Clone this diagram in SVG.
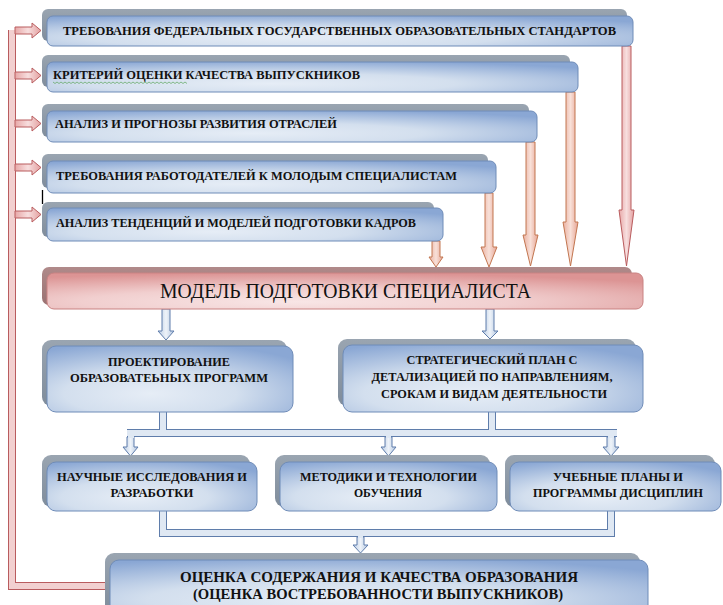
<svg xmlns="http://www.w3.org/2000/svg" width="723" height="605" viewBox="0 0 723 605">
<defs>
<radialGradient id="gBlue" cx="0.42" cy="0.72" r="0.78">
<stop offset="0" stop-color="#e6edf6"/>
<stop offset="0.45" stop-color="#d3dfee"/>
<stop offset="1" stop-color="#8aa7d4"/>
</radialGradient>
<radialGradient id="gPink" cx="0.42" cy="0.8" r="0.8">
<stop offset="0" stop-color="#f8e6e6"/>
<stop offset="0.45" stop-color="#f1cfcf"/>
<stop offset="1" stop-color="#dc9494"/>
</radialGradient>
<linearGradient id="gShadow" x1="0" y1="0" x2="0" y2="1">
<stop offset="0" stop-color="#9aa5b1"/>
<stop offset="1" stop-color="#7f8c9b"/>
</linearGradient>
<linearGradient id="gShadowPink" x1="0" y1="0" x2="0" y2="1">
<stop offset="0" stop-color="#b08a8a"/>
<stop offset="1" stop-color="#9a7272"/>
</linearGradient>
<linearGradient id="gArrPink" x1="0" y1="0" x2="1" y2="0">
<stop offset="0" stop-color="#e8a8a8"/>
<stop offset="0.5" stop-color="#f7dede"/>
<stop offset="1" stop-color="#e3a0a0"/>
</linearGradient>
<linearGradient id="gArrOr" x1="0" y1="0" x2="1" y2="0">
<stop offset="0" stop-color="#eab0a0"/>
<stop offset="0.5" stop-color="#f8e0d8"/>
<stop offset="1" stop-color="#e6a594"/>
</linearGradient>
<linearGradient id="gArrBlue" x1="0" y1="0" x2="1" y2="0">
<stop offset="0" stop-color="#b9cbe3"/>
<stop offset="0.5" stop-color="#eef3f9"/>
<stop offset="1" stop-color="#b3c6e0"/>
</linearGradient>
</defs>
<style>
.sh{fill:url(#gShadow);}
.shp{fill:url(#gShadowPink);}
.bx{fill:url(#gBlue);stroke:#6f8cb8;stroke-width:1;}
.pk{fill:url(#gPink);stroke:#c98282;stroke-width:1;}
text{font-family:"Liberation Serif","Times New Roman","DejaVu Serif",serif;fill:#111;}
.t{font-weight:bold;}
.t13{font-size:13px;}
.t12{font-size:12.5px;}
.t15{font-size:15.5px;}
.tm{font-size:21px;}
.c{text-anchor:middle;}
.apk{fill:url(#gArrPink);stroke:#b95c5e;stroke-width:1;stroke-linejoin:miter;}
.aor{fill:url(#gArrOr);stroke:#c27650;stroke-width:1;stroke-linejoin:miter;}
.abl{fill:url(#gArrBlue);stroke:#5f7dab;stroke-width:1;stroke-linejoin:miter;}
.po{fill:none;stroke:#5f7dab;stroke-width:8;stroke-linejoin:miter;}
.pi{fill:none;stroke:#dfe8f3;stroke-width:6;stroke-linejoin:miter;}
.lo{fill:none;stroke:#b95c5e;stroke-width:8;stroke-linejoin:miter;}
.li{fill:none;stroke:#f2d0d0;stroke-width:6;stroke-linejoin:miter;}
.cap{fill:none;stroke:#dfe8f3;stroke-width:2;}
</style>
<rect width="723" height="605" fill="#ffffff"/>

<g id="connectors">
<path class="lo" d="M12,30 V586 H106"/>
<path class="li" d="M12,30 V586 H106"/>
<polygon class="apk" points="15,27 32,27 32,23 41,30.5 32,38 32,34 15,34"/>
<polygon class="apk" points="15,72 32,72 32,68 41,75.5 32,83 32,79 15,79"/>
<polygon class="apk" points="15,120 32,120 32,116 41,123.5 32,131 32,127 15,127"/>
<polygon class="apk" points="15,164 32,164 32,160 41,167.5 32,175 32,171 15,171"/>
<polygon class="apk" points="15,211 32,211 32,207 41,214.5 32,222 32,218 15,218"/>
<polygon class="apk" points="622,46 631,46 631,210 634,210 626.5,266 619,210 622,210"/>
<polygon class="aor" points="566,92 575,92 575,222 578,222 570.5,266 563,222 566,222"/>
<polygon class="aor" points="526,142 535,142 535,235 538,235 530.5,266 523,235 526,235"/>
<polygon class="aor" points="485,193 493,193 493,247 497,247 489,267 481,247 485,247"/>
<polygon class="aor" points="432,241 440,241 440,257 443,257 436,267 429,257 432,257"/>
<polygon class="abl" points="162,309 170,309 170,331 174,331 166,340 158,331 162,331"/>
<polygon class="abl" points="486,309 494,309 494,331 498,331 490,339 482,331 486,331"/>
<path class="po" d="M163,412 V433 M492,412 V433 M127,433 H617"/>
<path class="pi" d="M163,412 V433 M492,412 V433 M127,433 H617"/>
<polygon class="abl" points="127,437 134,437 134,447 138,447 130.5,456 123,447 127,447"/>
<polygon class="abl" points="385,437 392,437 392,447 396,447 388.5,456 381,447 385,447"/>
<polygon class="abl" points="607,437 615,437 615,447 619,447 611,456 603,447 607,447"/>
<path class="cap" d="M128,437 H134 M386,437 H391 M608,437 H614"/>
<path class="po" d="M163,511 V533 H611 V511"/>
<path class="pi" d="M163,511 V533 H611 V511"/>
<polygon class="abl" points="357,537 364,537 364,545 368,545 360.5,553 353,545 357,545"/>
<path class="cap" d="M358,537 H363"/>
</g>

<g id="n1">
<rect class="sh" x="42" y="9" width="585" height="32" rx="6"/>
<rect class="bx" x="47" y="16" width="586" height="30" rx="6"/>
<text class="t t13" x="63" y="35" textLength="553" lengthAdjust="spacingAndGlyphs">ТРЕБОВАНИЯ ФЕДЕРАЛЬНЫХ ГОСУДАРСТВЕННЫХ ОБРАЗОВАТЕЛЬНЫХ СТАНДАРТОВ</text>
</g>
<g id="n2">
<rect class="sh" x="42" y="55" width="528" height="32" rx="6"/>
<rect class="bx" x="47" y="62" width="531" height="30" rx="6"/>
<text class="t t13" x="53" y="79" textLength="307" lengthAdjust="spacingAndGlyphs">КРИТЕРИЙ ОЦЕНКИ КАЧЕСТВА ВЫПУСКНИКОВ</text>
<path d="M53,82 l2,1.5 l2,-1.5 l2,1.5 l2,-1.5 l2,1.5 l2,-1.5 l2,1.5 l2,-1.5 l2,1.5 l2,-1.5 l2,1.5 l2,-1.5 l2,1.5 l2,-1.5 l2,1.5 l2,-1.5 l2,1.5 l2,-1.5 l2,1.5 l2,-1.5 l2,1.5 l2,-1.5 l2,1.5 l2,-1.5 l2,1.5 l2,-1.5 l2,1.5 l2,-1.5 l2,1.5 l2,-1.5 l2,1.5 l2,-1.5 l2,1.5 l2,-1.5 l2,1.5 l2,-1.5 l2,1.5 l2,-1.5 l2,1.5 l2,-1.5 l2,1.5 l2,-1.5 l2,1.5 l2,-1.5 l2,1.5 l2,-1.5 l2,1.5 l2,-1.5 l2,1.5 l2,-1.5 l2,1.5 l2,-1.5 l2,1.5 l2,-1.5 l2,1.5 l2,-1.5 l2,1.5 l2,-1.5 l2,1.5 l2,-1.5 l2,1.5 l2,-1.5 l2,1.5 l2,-1.5 l2,1.5 l2,-1.5 l2,1.5" fill="none" stroke="#5aa55a" stroke-width="0.7"/>
</g>
<g id="n3">
<rect class="sh" x="42" y="104" width="487" height="33" rx="6"/>
<rect class="bx" x="47" y="111" width="490" height="31" rx="6"/>
<text class="t t13" x="55" y="128" textLength="282" lengthAdjust="spacingAndGlyphs">АНАЛИЗ И ПРОГНОЗЫ  РАЗВИТИЯ ОТРАСЛЕЙ</text>
</g>
<g id="n4">
<rect class="sh" x="42" y="154" width="446" height="34" rx="6"/>
<rect class="bx" x="47" y="161" width="449" height="32" rx="6"/>
<text class="t t13" x="56" y="180" textLength="401" lengthAdjust="spacingAndGlyphs">ТРЕБОВАНИЯ РАБОТОДАТЕЛЕЙ К МОЛОДЫМ СПЕЦИАЛИСТАМ</text>
</g>
<line x1="42.5" y1="190" x2="42.5" y2="204" stroke="#000" stroke-width="1.3"/>
<g id="n5">
<rect class="sh" x="42" y="202" width="392" height="35" rx="6"/>
<rect class="bx" x="47" y="208" width="396" height="33" rx="6"/>
<text class="t t13" x="56" y="227" textLength="360" lengthAdjust="spacingAndGlyphs">АНАЛИЗ ТЕНДЕНЦИЙ И МОДЕЛЕЙ ПОДГОТОВКИ КАДРОВ</text>
</g>

<g id="model">
<rect class="shp" x="42" y="267" width="590" height="38" rx="7"/>
<rect class="pk" x="47" y="273" width="596" height="36" rx="7"/>
<text class="tm" x="160" y="298" textLength="371" lengthAdjust="spacingAndGlyphs">МОДЕЛЬ ПОДГОТОВКИ СПЕЦИАЛИСТА</text>
</g>

<g id="design">
<rect class="sh" x="42" y="340" width="245" height="66" rx="9"/>
<rect class="bx" x="47" y="346" width="246" height="66" rx="9"/>
<text class="t t12 c" x="169" y="366" textLength="122" lengthAdjust="spacingAndGlyphs">ПРОЕКТИРОВАНИЕ</text>
<text class="t t12 c" x="169" y="382" textLength="198" lengthAdjust="spacingAndGlyphs">ОБРАЗОВАТЕЬНЫХ ПРОГРАММ</text>
</g>
<g id="plan">
<rect class="sh" x="338" y="339" width="298" height="67" rx="9"/>
<rect class="bx" x="343" y="345" width="300" height="67" rx="9"/>
<text class="t t12 c" x="492" y="364" textLength="171" lengthAdjust="spacingAndGlyphs">СТРАТЕГИЧЕСКИЙ ПЛАН С</text>
<text class="t t12 c" x="492" y="381" textLength="241" lengthAdjust="spacingAndGlyphs">ДЕТАЛИЗАЦИЕЙ ПО НАПРАВЛЕНИЯМ,</text>
<text class="t t12 c" x="494" y="398" textLength="226" lengthAdjust="spacingAndGlyphs">СРОКАМ И ВИДАМ ДЕЯТЕЛЬНОСТИ</text>
</g>

<g id="research">
<rect class="sh" x="42" y="455" width="208" height="52" rx="9"/>
<rect class="bx" x="47" y="462" width="210" height="49" rx="9"/>
<text class="t t13 c" x="152" y="481" textLength="190" lengthAdjust="spacingAndGlyphs">НАУЧНЫЕ ИССЛЕДОВАНИЯ И</text>
<text class="t t13 c" x="152" y="497" textLength="83" lengthAdjust="spacingAndGlyphs">РАЗРАБОТКИ</text>
</g>
<g id="methods">
<rect class="sh" x="275" y="455" width="215" height="52" rx="9"/>
<rect class="bx" x="280" y="462" width="217" height="49" rx="9"/>
<text class="t t13 c" x="388.5" y="481" textLength="177" lengthAdjust="spacingAndGlyphs">МЕТОДИКИ И ТЕХНОЛОГИИ</text>
<text class="t t13 c" x="388" y="497" textLength="68" lengthAdjust="spacingAndGlyphs">ОБУЧЕНИЯ</text>
</g>
<g id="curricula">
<rect class="sh" x="505" y="455" width="210" height="52" rx="9"/>
<rect class="bx" x="510" y="462" width="211" height="49" rx="9"/>
<text class="t t13 c" x="618" y="481" textLength="130" lengthAdjust="spacingAndGlyphs">УЧЕБНЫЕ ПЛАНЫ И</text>
<text class="t t13 c" x="618" y="497" textLength="170" lengthAdjust="spacingAndGlyphs">ПРОГРАММЫ ДИСЦИПЛИН</text>
</g>

<g id="evaluation">
<rect class="sh" x="105" y="553" width="535" height="60" rx="9"/>
<rect class="bx" x="110" y="560" width="538" height="55" rx="9"/>
<text class="t t15 c" x="379" y="582" textLength="398" lengthAdjust="spacingAndGlyphs">ОЦЕНКА СОДЕРЖАНИЯ И КАЧЕСТВА ОБРАЗОВАНИЯ</text>
<text class="t t15 c" x="378" y="599" textLength="370" lengthAdjust="spacingAndGlyphs">(ОЦЕНКА ВОСТРЕБОВАННОСТИ ВЫПУСКНИКОВ)</text>
</g>
</svg>
